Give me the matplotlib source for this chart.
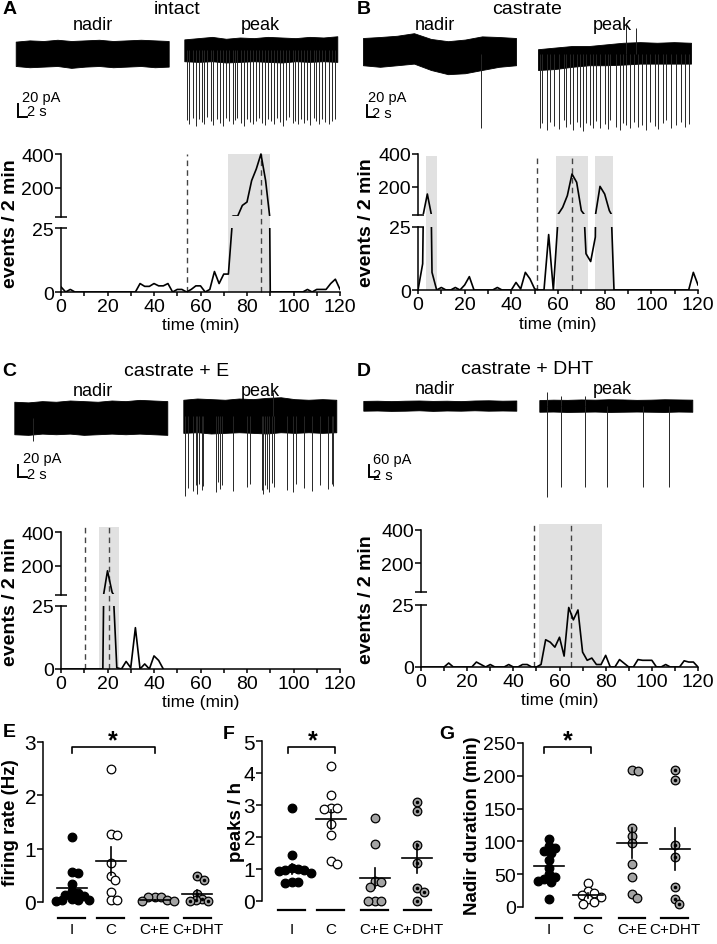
import numpy as np
import matplotlib
matplotlib.use("Agg")
import matplotlib.pyplot as plt
from matplotlib.transforms import blended_transform_factory as blend, Bbox, TransformedBbox
from matplotlib.patches import Rectangle
from matplotlib.lines import Line2D
from matplotlib.ticker import FixedLocator, MultipleLocator

plt.rcParams['font.family'] = ['Liberation Sans', 'DejaVu Sans']
plt.rcParams['axes.linewidth'] = 1.1

# ======================= DATA =======================
time_min = np.arange(0, 121, 2)

events_A = [2, 0, 1, 0, 0, 0, 0, 0, 0, 0, 0, 0, 0, 0, 0, 0, 0,
            3.3, 2.2, 2.2, 3.3, 2.4, 2.4, 3.3, 0, 1, 1, 0, 1, 2.4, 2.4,
            0, 1, 8, 3.3, 7, 7, 31, 31, 94, 114, 242, 311, 400, 242, 0,
            0, 0, 0, 0, 0, 0, 0,
            1, 0, 1, 1, 1, 3.3, 5, 1]
events_B = [0, 10.4, 154, 7, 0,
            1, 0, 0, 1, 0, 2, 5.3, 0,
            0, 0, 0, 0, 1, 0, 0, 0,
            3, 0.4, 7, 4.4, 0.4, 0, 0, 22, 0,
            28, 72, 144, 277, 226, 52, 14.4, 11.3, 21, 201, 154, 52, 0,
            0, 0, 0, 0, 0, 0, 0, 0, 0, 0, 0, 0, 0, 0, 0, 0,
            7, 2]
events_C = [0, 0, 0, 0, 0, 0, 0, 0, 0, 0,
            169, 40, 0.5, 0, 3, 0.5, 16.4, 0, 2, 0, 5.2, 3.4, 0] + [np.nan] * 38
events_D = [0, 0, 0, 0, 0, 0,
            1.6, 0, 0, 0, 0, 0, 2, 1, 0, 1, 0, 0, 0, 1, 0, 0, 1, 1, 0, 0,
            1, 11, 10, 8, 12, 4.4, 24, 19, 23, 6, 2.7, 3.6, 1, 1, 4.7, 0,
            0, 3, 1.5, 0, 0, 3, 2.7, 2.7, 2.7, 0, 0, 1, 0, 0, 0, 2.5, 2, 2, 0]

shades_A = [(72, 90)]
dashes_A = [54, 86]
shades_B = [(3.3, 8.3), (59, 72.7), (76, 83.5)]
dashes_B = [50.8, 66.2]
shades_C = [(16.5, 25)]
dashes_C = [10.3, 20.6]
shades_D = [(51.3, 78.4)]
dashes_D = [49.1, 64.8]

# ---- electrophysiology traces (pA relative to baseline, times in s) ----
TRACE_DUR = 36
A_nadir_top = [19, 21, 20, 22, 20, 21, 22, 20, 21, 22, 21, 20]
A_nadir_bot = [-20, -22, -21, -20, -23, -21, -20, -22, -21, -20, -22, -21]
A_peak_top = [17, 19, 21, 18, 20, 19, 21, 20, 19, 21, 20, 22]
A_peak_bot = [-18, -19, -18, -20, -19, -18, -19, -20, -18, -19, -18, -19]
A_spk_t = [0.7, 1.2, 2.0, 2.7, 3.5, 4.1, 4.6, 5.4, 6.2, 6.8, 7.6, 8.4, 9.0, 9.8,
           10.6, 11.4, 12.0, 12.5, 13.3, 14.1, 14.7, 15.5, 16.1, 16.9, 17.6,
           18.3, 19.0, 19.8, 20.5, 21.1, 21.9, 22.5, 23.3, 23.9, 24.7, 25.5,
           26.1, 26.8, 27.5, 28.2, 28.9, 29.6, 30.4, 31.0, 31.8, 32.4, 33.2,
           34.0, 34.7, 35.4]
A_spk_a = [-112, -118, -108, -121, -110, -115, -119, -107, -113, -120, -111,
           -116, -122, -109, -114, -118, -112, -108, -117, -121, -110, -115,
           -119, -113, -108, -116, -120, -111, -114, -118, -109, -115, -121,
           -112, -107, -117, -113, -119, -110, -116, -112, -120, -108, -114,
           -118, -111, -115, -119, -113, -110]

B_nadir_top = [25.6, 27.2, 29.2, 33.3, 24.1, 20.5, 23.1, 28.2, 27.2, 25.6]
B_nadir_bot = [-18, -20.5, -18, -15.4, -25.6, -32.3, -30.8, -25.6, -20.5, -18]
B_nadir_spk_t = [27.7]
B_nadir_spk_a = [-118]
B_peak_top = [7.7, 10.3, 12.8, 12.8, 15.4, 18, 19, 18, 19, 18]
B_peak_bot = [-25.6, -24.1, -20.5, -18, -18, -17, -15.4, -15.4, -15.4, -15.4]
B_spk_t = [0.4, 1.0, 2.0, 2.9, 3.7, 4.9, 6.0, 6.7, 7.5, 8.2, 9.2, 9.8, 10.6,
           11.4, 12.2, 12.9, 13.7, 14.5, 15.7, 16.5, 17.0, 18.3, 19.2, 20.0,
           20.8, 21.7, 22.5, 23.5, 24.5, 25.3, 26.4, 27.5, 28.2, 29.4, 30.2,
           31.4, 32.5, 33.7, 34.5, 35.5]
B_spk_a = [-118, -110, -122, -108, -115, -120, -106, -117, -112, -121, -109,
           -116, -123, -110, -114, -119, -107, -118, -112, -120, -105, -116,
           -121, -110, -114, -119, -108, -117, -113, -122, -109, -115, -120,
           -111, -106, -118, -113, -108, -116, -112]
B_up_t = [20.8, 23.1]
B_up_a = [46, 41]

C_nadir_top = [26, 25, 27, 26, 28, 27, 26, 28, 27, 29, 28, 27]
C_nadir_bot = [-26, -27, -25, -26, -25, -27, -26, -25, -26, -25, -26, -27]
C_nadir_spk_t = [4.5]
C_nadir_spk_a = [-37]
C_peak_top = [26, 28, 27, 26, 28, 27, 29, 30, 27, 26, 27, 26]
C_peak_bot = [-27, -26, -28, -27, -26, -27, -28, -26, -27, -26, -27, -26]
C_spk_t = [0.4, 1.2, 2.2, 3.0, 3.3, 3.8, 4.3, 4.7, 7.7, 8.2, 8.6, 9.0, 11.8,
           15.1, 15.8, 18.4, 18.8, 19.2, 19.6, 20.2, 20.8, 21.3, 24.3, 25.9,
           26.5, 28.4, 30.2, 32.2, 34.1, 34.9, 35.3]
C_spk_a = [-128, -115, -120, -110, -124, -108, -118, -112, -122, -106, -116,
           -110, -120, -114, -108, -119, -125, -110, -116, -121, -107, -113,
           -118, -122, -109, -115, -120, -111, -117, -108, -112]
C_up_t = [21.0]
C_up_a = [38]

D_nadir_top = [23, 24, 22, 24, 25, 23, 24, 22, 25, 26, 24, 25]
D_nadir_bot = [-24, -23, -25, -24, -22, -25, -23, -24, -22, -24, -23, -24]
D_peak_top = [27, 29, 28, 30, 29, 31, 30, 28, 29, 31, 30, 29]
D_peak_bot = [-29, -28, -30, -29, -28, -30, -29, -28, -29, -30, -28, -29]
D_spk_t = [1.7, 5.0, 10.7, 16.0, 24.3, 30.4]
D_spk_a = [-440, -392, -392, -392, -392, -392]
D_up_t = [1.7, 5.0, 10.7]
D_up_a = [64, 48, 45]

# ---- group scatter data ----
groups = ['I', 'C', 'C+E', 'C+DHT']

rate_I = [1.22, 0.57, 0.55, 0.33, 0.2, 0.16, 0.14, 0.12, 0.05, 0.04, 0.03, 0.03, 0.02]
rate_C = [2.5, 1.27, 1.25, 0.73, 0.49, 0.41, 0.18, 0.03, 0.03]
rate_CE = [0.1, 0.1, 0.09, 0.03, 0.02, 0.02]
rate_CDHT = [0.48, 0.42, 0.15, 0.05, 0.03, 0.02, 0.02]
rate_mean = [0.26, 0.77, 0.03, 0.15]
rate_sem = [0.1, 0.26, 0.01, 0.07]

peaks_I = [2.9, 1.43, 1.02, 1.0, 0.98, 0.96, 0.93, 0.88, 0.6, 0.58, 0.56]
peaks_C = [4.22, 3.32, 2.9, 2.9, 2.88, 2.4, 2.07, 1.26, 1.15]
peaks_CE = [2.58, 1.78, 0.62, 0.6, 0.45, 0.0, 0.0, 0.0]
peaks_CDHT = [3.08, 2.8, 1.75, 1.19, 0.4, 0.29, 0.0]
peaks_mean = [1.0, 2.55, 0.72, 1.33]
peaks_sem = [0.17, 0.3, 0.3, 0.45]

nadir_I = [103, 93, 90, 85, 83, 72, 60, 50, 45, 42, 40, 38, 12]
nadir_C = [37, 24, 21, 19, 16, 12, 8, 5]
nadir_CE = [209, 208, 121, 108, 98, 65, 46, 20, 13]
nadir_CDHT = [209, 193, 95, 76, 30, 12, 5]
nadir_mean = [62, 18, 98, 89]
nadir_sem = [9, 4, 23, 32]

# ======================= FIGURE =======================
W, H = 717, 945
fig = plt.figure(figsize=(W / 100, H / 100), dpi=100)


def fx(x):
    return x / W


def fy(y):
    return 1 - y / H


def box(x0, y0, x1, y1):
    return fig.add_axes([fx(x0), fy(y1), (x1 - x0) / W, (y1 - y0) / H])


def ftext(x, y, s, **kw):
    kw.setdefault('ha', 'center')
    kw.setdefault('va', 'center')
    fig.text(fx(x), fy(y), s, **kw)


def fline(xs, ys, **kw):
    fig.add_artist(Line2D([fx(x) for x in xs], [fy(y) for y in ys],
                          transform=fig.transFigure, **kw))


# ---------------- event panels ----------------
TICK_FS = 14


def event_panel(xl, xr, y400, ybrk, y25, y0, ymark, values, shades, dashes, ylab_x):
    ax_hi = box(xl, y400, xr, ybrk)
    ax_lo = box(xl, y25, xr, y0)
    for ax in (ax_hi, ax_lo):
        ax.set_facecolor('none')
        ax.set_xlim(0, 120)
        ax.spines['top'].set_visible(False)
        ax.spines['right'].set_visible(False)
        ln, = ax.plot(time_min, values, color='black', lw=1.2, zorder=3)
        if ax is ax_hi:
            # keep the stroke of values just under 25 out of the upper part
            ln.set_clip_box(TransformedBbox(Bbox([[-5, 30], [125, 460]]),
                                            ax.transData))
    ax_hi.set_ylim(25, 400)
    ax_hi.spines['bottom'].set_visible(False)
    ax_hi.set_xticks([])
    ax_hi.set_yticks([200, 400])
    ax_hi.yaxis.set_minor_locator(FixedLocator([25]))
    ax_hi.tick_params(axis='y', which='minor', direction='inout', length=8, width=1.1)
    ax_hi.tick_params(axis='y', which='major', length=4, width=1.1,
                      labelsize=TICK_FS, pad=1)
    ax_lo.set_ylim(0, 25)
    ax_lo.set_yticks([0, 25])
    ax_lo.yaxis.remove_overlapping_locs = False
    ax_lo.yaxis.set_minor_locator(FixedLocator([25]))
    ax_lo.tick_params(axis='y', which='minor', direction='in', length=4, width=1.1)
    ax_lo.tick_params(axis='y', which='major', length=4, width=1.1,
                      labelsize=TICK_FS, pad=1)
    ax_lo.set_xticks(range(0, 121, 20))
    ax_lo.xaxis.set_minor_locator(MultipleLocator(10))
    ax_lo.tick_params(axis='x', which='both', length=3, width=1.1,
                      labelsize=TICK_FS, pad=1.5)
    tr = blend(ax_lo.transData, fig.transFigure)
    for a, b in shades:
        fig.add_artist(Rectangle((a, fy(y0)), b - a, fy(ymark) - fy(y0),
                                 transform=tr, facecolor='#e1e1e1',
                                 edgecolor='none', zorder=-2))
    for d in dashes:
        fig.add_artist(Line2D([d, d], [fy(y0), fy(ymark)], transform=tr,
                              color='#444444', lw=1.0, ls=(0, (4, 3)), zorder=-1))
    ftext(ylab_x, (y400 + y0) / 2, 'events / 2 min', rotation=90,
          fontweight='bold', fontsize=14)
    ftext((xl + xr) / 2, y0 + 33, 'time (min)', fontsize=12.5)


event_panel(61, 340, 155, 218, 229, 293, 155, events_A, shades_A, dashes_A, 11)
event_panel(418, 698, 155, 216, 228, 291, 157, events_B, shades_B, dashes_B, 367)
event_panel(61, 340, 533, 596, 607, 670, 528, events_C, shades_C, dashes_C, 11)
event_panel(421, 698, 531, 593, 606, 668, 525, events_D, shades_D, dashes_D, 367)

# ---------------- traces ----------------
PXS = 4.25


def trace_axes(x0, y0, x1, y1, pxa):
    ax = box(x0, y0, x1, y1)
    ax.set_xlim(0, (x1 - x0) / PXS)
    ax.set_ylim(0, (y1 - y0) / pxa)
    ax.axis('off')
    return ax, (lambda px: (px - x0) / PXS), (lambda py: (y1 - py) / pxa)


def draw_trace(ax, X, Y, start_px, base_px, top, bot, spk_t=(), spk_a=(),
               up_t=(), up_a=()):
    t0 = X(start_px)
    b = Y(base_px)
    tt = t0 + np.linspace(0, TRACE_DUR, len(top))
    ax.fill_between(tt, b + np.asarray(bot), b + np.asarray(top),
                    color='black', lw=0.6)
    if len(spk_t):
        ax.vlines(t0 + np.asarray(spk_t), b, b + np.asarray(spk_a),
                  color='#262626', lw=0.7)
    if len(up_t):
        ax.vlines(t0 + np.asarray(up_t), b, b + np.asarray(up_a),
                  color='#262626', lw=0.7)


def scale_bar(ax, X, Y, cx, cy, amp):
    x, y = X(cx), Y(cy)
    ax.plot([x, x, x + 2], [y + amp, y, y], color='black', lw=1.4,
            solid_joinstyle='miter')


# A
pxa = 12.5 / 20
ax, X, Y = trace_axes(5, 30, 350, 135, pxa)
draw_trace(ax, X, Y, 15.7, 54.5, A_nadir_top, A_nadir_bot)
draw_trace(ax, X, Y, 184.3, 51, A_peak_top, A_peak_bot, A_spk_t, A_spk_a)
scale_bar(ax, X, Y, 18, 117.5, 20)
# B
ax, X, Y = trace_axes(358, 20, 705, 140, pxa)
draw_trace(ax, X, Y, 363, 55, B_nadir_top, B_nadir_bot, B_nadir_spk_t, B_nadir_spk_a)
draw_trace(ax, X, Y, 538, 55, B_peak_top, B_peak_bot, B_spk_t, B_spk_a, B_up_t, B_up_a)
scale_bar(ax, X, Y, 366.7, 118.3, 20)
# C
ax, X, Y = trace_axes(5, 385, 350, 505, pxa)
draw_trace(ax, X, Y, 14.3, 419, C_nadir_top, C_nadir_bot, C_nadir_spk_t, C_nadir_spk_a)
draw_trace(ax, X, Y, 183.3, 417, C_peak_top, C_peak_bot, C_spk_t, C_spk_a, C_up_t, C_up_a)
scale_bar(ax, X, Y, 18.3, 478.3, 20)
# D
pxaD = 12.5 / 60
ax, X, Y = trace_axes(358, 385, 705, 505, pxaD)
draw_trace(ax, X, Y, 363.3, 406.7, D_nadir_top, D_nadir_bot)
draw_trace(ax, X, Y, 539.3, 406.7, D_peak_top, D_peak_bot, D_spk_t, D_spk_a, D_up_t, D_up_a)
scale_bar(ax, X, Y, 369.3, 478.3, 60)

# trace texts
SB_FS = 10.5
ftext(22, 98, '20 pA', ha='left', fontsize=SB_FS)
ftext(27, 112, '2 s', ha='left', fontsize=SB_FS)
ftext(368, 98, '20 pA', ha='left', fontsize=SB_FS)
ftext(372, 114, '2 s', ha='left', fontsize=SB_FS)
ftext(22.7, 459, '20 pA', ha='left', fontsize=SB_FS)
ftext(27, 475, '2 s', ha='left', fontsize=SB_FS)
ftext(372.7, 460, '60 pA', ha='left', fontsize=SB_FS)
ftext(373, 476, '2 s', ha='left', fontsize=SB_FS)

TITLE_FS = 14
SUB_FS = 13
ftext(177, 10, 'intact', fontsize=TITLE_FS)
ftext(93, 25, 'nadir', fontsize=SUB_FS)
ftext(260, 25, 'peak', fontsize=SUB_FS)
ftext(527, 9, 'castrate', fontsize=TITLE_FS)
ftext(435, 25, 'nadir', fontsize=SUB_FS)
ftext(612, 25, 'peak', fontsize=SUB_FS)
ftext(177, 372, 'castrate + E', fontsize=TITLE_FS)
ftext(93, 392, 'nadir', fontsize=SUB_FS)
ftext(260, 392, 'peak', fontsize=SUB_FS)
ftext(527, 370, 'castrate + DHT', fontsize=TITLE_FS)
ftext(435, 390, 'nadir', fontsize=SUB_FS)
ftext(612, 390, 'peak', fontsize=SUB_FS)

LET_FS = 14
for s, x, y in [('A', 10, 9), ('B', 364, 9), ('C', 9, 372), ('D', 364, 371),
                ('E', 9, 733), ('F', 229, 735), ('G', 447, 735)]:
    ftext(x, y, s, fontsize=LET_FS, fontweight='bold')

# ---------------- scatter panels ----------------
POS = np.array([0, 0.93, 1.98, 3.0])
PXU = 41.9
fills = ['black', 'white', '#a3a3a3', '#a3a3a3']
MS = 6.2
DPX = 8.5 * 0.74


def swarm(vals, ypx_per_unit, xpx_per_unit, d):
    vals = np.asarray(vals, dtype=float)
    order = np.argsort(-vals, kind='stable')
    placed = []
    offs = np.zeros(len(vals))
    cands = [0.0]
    for k in range(1, 60):
        cands += [k * d * 0.25, -k * d * 0.25]
    for i in order:
        y = vals[i] * ypx_per_unit
        for c in cands:
            if all((c - px) ** 2 + (y - py) ** 2 >= d ** 2 for px, py in placed):
                placed.append((c, y))
                offs[i] = c / xpx_per_unit
                break
    return offs


def scatter_panel(xl, xr, cI, ytop, ybot, ymax, data, means, sems, yticks,
                  ylab, ylab_x, under_y, br_x, br_y, star_x, tick_fs):
    ax = box(xl, ytop, xr, ybot)
    ax.set_facecolor('none')
    ax.set_xlim((xl - cI) / PXU, (xr - cI) / PXU)
    ax.set_ylim(0, ymax)
    ypx = (ybot - ytop) / ymax
    for i, vals in enumerate(data):
        offs = swarm(vals, ypx, PXU, DPX)
        ax.plot(POS[i] + offs, vals, 'o', ms=MS, mfc=fills[i], mec='black',
                mew=0.9, clip_on=False, zorder=3, ls='none')
        if i == 3:
            ax.plot(POS[i] + offs, vals, 'o', ms=1.5, color='black',
                    clip_on=False, zorder=3.5, ls='none')
        ax.plot([POS[i] - 0.36, POS[i] + 0.36], [means[i]] * 2,
                color='black', lw=1.2, zorder=4, clip_on=False)
        ax.plot([POS[i]] * 2, [means[i] - sems[i], means[i] + sems[i]],
                color='black', lw=1.2, zorder=4, clip_on=False)
    for s in ('top', 'right', 'bottom'):
        ax.spines[s].set_visible(False)
    ax.set_xticks([])
    ax.set_yticks(yticks)
    ax.tick_params(axis='y', length=4, width=1.1, labelsize=tick_fs, pad=1)
    tr = blend(ax.transData, fig.transFigure)
    for i, g in enumerate(groups):
        ax.add_line(Line2D([POS[i] - 0.32, POS[i] + 0.32], [fy(under_y)] * 2,
                           transform=tr, color='black', lw=1.6, clip_on=False))
        fig.text(POS[i], fy(930), g, transform=tr, ha='center', va='center',
                 fontsize=11)
    ftext(ylab_x, (ytop + ybot) / 2, ylab, rotation=90, fontweight='bold',
          fontsize=13.5)
    # significance bracket (layout annotation)
    fline([br_x[0], br_x[0], br_x[1], br_x[1]], [br_y[1], br_y[0], br_y[0], br_y[1]],
          color='black', lw=1.2)
    ftext(star_x, 741, '*', fontsize=18, fontweight='bold')
    return ax


scatter_panel(43, 222, 71.7, 743, 903, 3,
              [rate_I, rate_C, rate_CE, rate_CDHT], rate_mean, rate_sem,
              [0, 1, 2, 3], 'firing rate (Hz)', 11, 919,
              (71.7, 154.5), (748, 754), 113, 15)
scatter_panel(262, 440, 291.7, 742, 902, 5,
              [peaks_I, peaks_C, peaks_CE, peaks_CDHT], peaks_mean, peaks_sem,
              [0, 1, 2, 3, 4, 5], 'peaks / h', 236, 911,
              (288, 335), (748, 754), 313, 15)
scatter_panel(523, 705, 549, 744, 908, 250,
              [nadir_I, nadir_C, nadir_CE, nadir_CDHT], nadir_mean, nadir_sem,
              [0, 50, 100, 150, 200, 250], 'Nadir duration (min)', 472, 919,
              (544, 591), (748, 754), 568, 14)

fig.savefig('out.png', dpi=100)
